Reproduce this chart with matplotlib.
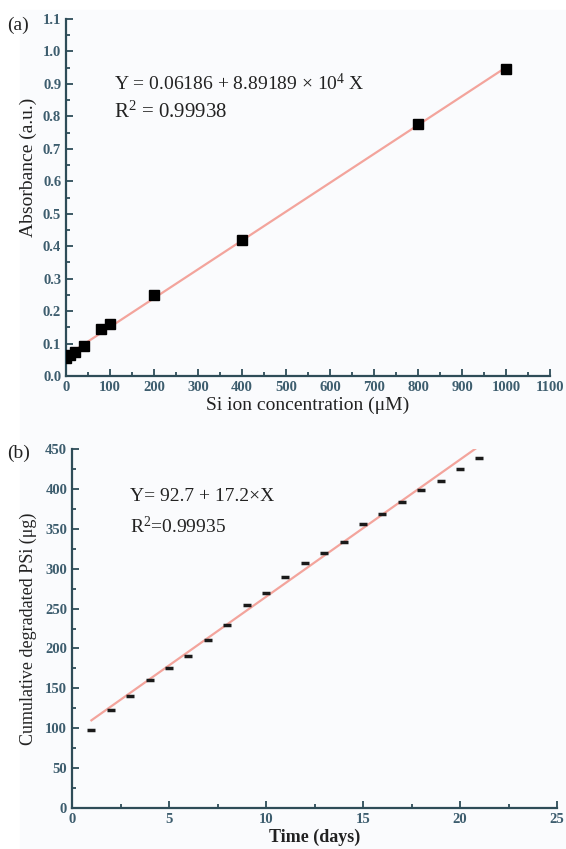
import matplotlib
matplotlib.use("Agg")
import matplotlib.pyplot as plt
import numpy as np
from matplotlib.ticker import MultipleLocator

plt.rcParams['font.family'] = ['Liberation Serif', 'DejaVu Serif']
plt.rcParams['mathtext.fontset'] = 'custom'
plt.rcParams['mathtext.rm'] = 'Liberation Serif'
plt.rcParams['mathtext.it'] = 'Liberation Serif:italic'
plt.rcParams['mathtext.bf'] = 'Liberation Serif:bold'

# Panel (a) data
conc_uM = [0, 10, 20, 40, 80, 100, 200, 400, 800, 1000]
absorbance = [0.055, 0.065, 0.074, 0.093, 0.145, 0.161, 0.249, 0.418, 0.778, 0.945]
fit_a_intercept = 0.06186
fit_a_slope = 8.89189e-4
fit_a_range = [0, 1000]

# Panel (b) data
days = list(range(1, 22))
cum_psi = [98, 123, 141, 161, 176, 191, 210, 229, 254, 270, 290,
           307, 320, 334, 356, 368, 384, 398, 410, 425, 439]
fit_b_intercept = 92.7
fit_b_slope = 17.2
fit_b_range = [1, 21]

spine_col = '#2e4c58'
tick_col = '#3d5d6e'
line_col = '#f3a49c'
txt_col = '#222222'
bg = '#fafbfd'

fig = plt.figure(figsize=(5.66, 8.49), dpi=100, facecolor='white')
W, H = 566, 849

def style(ax):
    ax.set_facecolor(bg)
    for s in ['top', 'right']:
        ax.spines[s].set_visible(False)
    for s in ['left', 'bottom']:
        ax.spines[s].set_color(spine_col)
        ax.spines[s].set_linewidth(1.6)
    ax.tick_params(which='both', direction='in', colors=spine_col, labelcolor=tick_col,
                   labelsize=10.5, width=1.3)
    ax.tick_params(which='major', length=5)
    ax.tick_params(which='minor', length=3)
    for lab in ax.get_xticklabels() + ax.get_yticklabels():
        lab.set_fontweight('bold')

# light background panel
fig.patches.append(plt.Rectangle((20 / W, 0), 1 - 20 / W, 1 - 10 / H,
                                 transform=fig.transFigure, color=bg, zorder=-10))

# ---- Panel (a)
axa = fig.add_axes([66 / W, 1 - 376 / H, (550 - 66) / W, (376 - 19) / H])
xf = np.array(fit_a_range, dtype=float)
axa.plot(xf, fit_a_intercept + fit_a_slope * xf, color=line_col, lw=1.6, zorder=2)
axa.plot(conc_uM, absorbance, 's', color='black', ms=7, zorder=3)
axa.set_xlim(0, 1100)
axa.set_ylim(0, 1.1)
axa.xaxis.set_major_locator(MultipleLocator(100))
axa.xaxis.set_minor_locator(MultipleLocator(50))
axa.yaxis.set_major_locator(MultipleLocator(0.1))
axa.yaxis.set_minor_locator(MultipleLocator(0.05))
axa.yaxis.set_major_formatter(matplotlib.ticker.FormatStrFormatter('%.1f'))
style(axa)
axa.set_xlabel('Si ion concentration (μM)', fontsize=14, color=txt_col, labelpad=2)
axa.set_ylabel('Absorbance (a.u.)', fontsize=14, color=txt_col, labelpad=4)
axa.yaxis.set_label_coords(-0.06, 0.585)
axa.text(0.1, 0.82, 'Y = 0.06186 + 8.89189 × 10$^{4}$ X', transform=axa.transAxes,
         fontsize=14, color=txt_col, va='center')
axa.text(0.1, 0.74, 'R$^{2}$ = 0.99938', transform=axa.transAxes,
         fontsize=15, color=txt_col, va='center')
fig.text(7 / W, 1 - 25 / H, '(a)', fontsize=14, color=txt_col, va='center')

# ---- Panel (b)
axb = fig.add_axes([72 / W, 1 - 808 / H, (557 - 72) / W, (808 - 449) / H])
xb = np.array(fit_b_range, dtype=float)
axb.plot(xb, fit_b_intercept + fit_b_slope * xb, color=line_col, lw=1.6, zorder=2)
axb.plot(days, cum_psi, '_', color='#1a1a1a', ms=6, mew=2.5, zorder=3)
axb.set_xlim(0, 25)
axb.set_ylim(0, 450)
axb.xaxis.set_major_locator(MultipleLocator(5))
axb.xaxis.set_minor_locator(MultipleLocator(2.5))
axb.yaxis.set_major_locator(MultipleLocator(50))
axb.yaxis.set_minor_locator(MultipleLocator(25))
style(axb)
axb.set_xlabel('Time (days)', fontsize=13, color=txt_col, fontweight='bold', labelpad=2)
axb.set_ylabel('Cumulative degradated PSi (μg)', fontsize=13, color=txt_col, labelpad=6)
axb.text(0.12, 0.855, 'Y= 92.7 + 17.2×X', transform=axb.transAxes,
         fontsize=14, color=txt_col)
axb.text(0.12, 0.765, 'R$^{2}$=0.99935', transform=axb.transAxes,
         fontsize=14, color=txt_col)
fig.text(7 / W, 1 - 453 / H, '(b)', fontsize=14, color=txt_col, va='center')

fig.savefig('out.png', dpi=100, facecolor='white')
